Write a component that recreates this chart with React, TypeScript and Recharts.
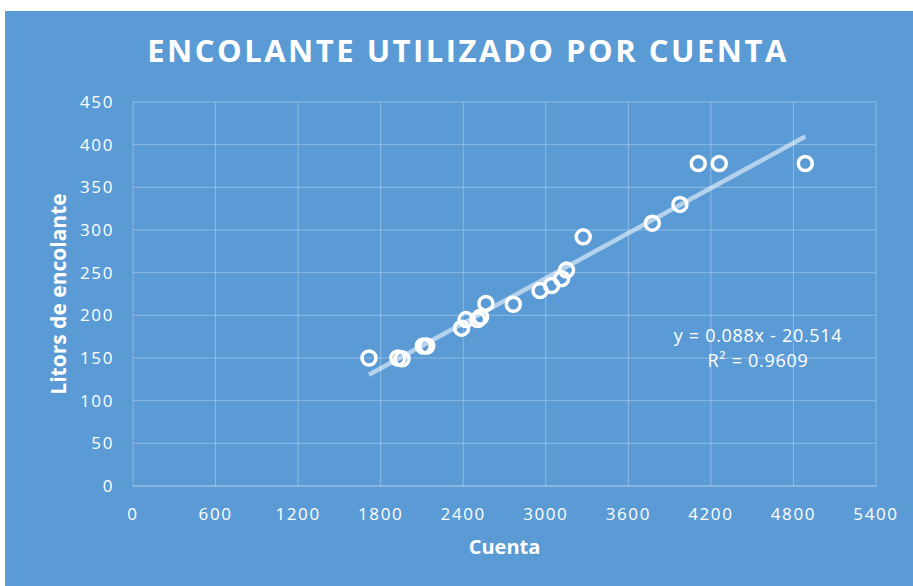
import { ScatterChart, Scatter, XAxis, YAxis, CartesianGrid } from "recharts"

const cuenta = [1715, 1925, 1955, 2110, 2135, 2388, 2420, 2505, 2526, 2565, 2764, 2958, 3042, 3115, 3151, 3272, 3774, 3975, 4108, 4261, 4886]
const litros = [150, 150, 149, 164, 164, 185, 195, 195, 198, 214, 213, 229, 235, 243, 253, 292, 308, 330, 378, 378, 378]
const xTicks = [0, 600, 1200, 1800, 2400, 3000, 3600, 4200, 4800, 5400]
const yTicks = [0, 50, 100, 150, 200, 250, 300, 350, 400, 450]
const slope = 0.088
const intercept = -20.514

const FONT = "'Open Sans', sans-serif"
const BG = "#5b9bd5"
const GRID = "rgba(255,255,255,0.3)"

const points = cuenta.map((x, i) => ({ x, y: litros[i] }))
const xMin = Math.min(...cuenta)
const xMax = Math.max(...cuenta)
const trend = [
  { x: xMin, y: slope * xMin + intercept },
  { x: xMax, y: slope * xMax + intercept },
]

function Ring(props: any) {
  const { cx, cy } = props
  if (cx == null || cy == null) return null
  return <circle cx={cx} cy={cy} r={7} fill="none" stroke="#fff" strokeWidth={3.5} />
}

const tick = { fill: "#fff", fontSize: 17, fontFamily: FONT, letterSpacing: 1.6 }

export default function App() {
  return (
    <div style={{ position: "absolute", left: 5, top: 11, width: 908, height: 575, background: BG, fontFamily: FONT }}>
      <div
        style={{
          position: "absolute",
          top: 18,
          left: 9,
          width: 908,
          textAlign: "center",
          color: "#fff",
          fontWeight: 700,
          fontSize: 31,
          letterSpacing: 2.5,
        }}
      >
        ENCOLANTE UTILIZADO POR CUENTA
      </div>
      <ScatterChart width={908} height={575} margin={{ top: 91, right: 37, bottom: 40, left: 58 }}>
        <CartesianGrid stroke={GRID} strokeWidth={1} />
        <XAxis
          type="number"
          dataKey="x"
          domain={[0, 5400]}
          ticks={xTicks}
          interval={0}
          height={60}
          stroke={GRID}
          tickLine={false}
          tickMargin={16}
          tick={tick}
          label={{ value: "Cuenta", position: "insideBottom", offset: -8, fill: "#fff", fontSize: 20, fontWeight: 700, fontFamily: FONT }}
        />
        <YAxis
          type="number"
          dataKey="y"
          domain={[0, 450]}
          ticks={yTicks}
          interval={0}
          width={70}
          axisLine={false}
          tickLine={false}
          tickMargin={13}
          tick={tick}
          label={{ value: "Litors de encolante", angle: -90, position: "insideLeft", offset: -4, fill: "#fff", fontSize: 21, fontWeight: 700, fontFamily: FONT, style: { textAnchor: "middle" } }}
        />
        <Scatter
          data={trend}
          line={{ stroke: "rgba(255,255,255,0.55)", strokeWidth: 4.5 }}
          shape={() => null}
          isAnimationActive={false}
        />
        <Scatter data={points} shape={<Ring />} isAnimationActive={false} />
      </ScatterChart>
      <div
        style={{
          position: "absolute",
          left: 653,
          top: 312,
          width: 200,
          textAlign: "center",
          color: "#fff",
          fontSize: 18,
          letterSpacing: 0.7,
          lineHeight: "25px",
        }}
      >
        y = 0.088x - 20.514
        <br />
        R² = 0.9609
      </div>
    </div>
  )
}
